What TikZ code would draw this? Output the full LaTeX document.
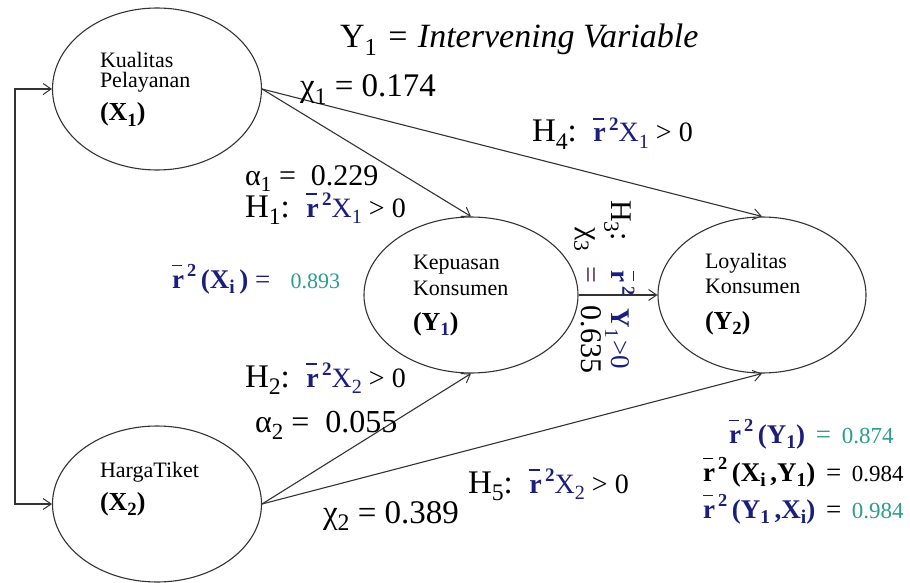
\documentclass[tikz,border=0pt]{standalone}
\usepackage{fontspec}
\setmainfont{Liberation Serif}
\usetikzlibrary{shapes.geometric,arrows.meta}
\definecolor{navy}{HTML}{1B1F7B}
\definecolor{teal2}{HTML}{2E9C8F}
\definecolor{plum}{HTML}{5A2040}
\definecolor{linec}{HTML}{333333}
\newcommand\sbs[1]{\raisebox{-0.22em}{\scalebox{0.72}{#1}}}
\newcommand\sps[1]{\raisebox{0.42em}{\scalebox{0.68}{#1}}}
\newcommand\rsq{\rlap{\raisebox{0.8em}{\rule{0.38em}{0.055em}}}\textbf{r}\kern0.12em\sps{\textbf{2}}}
\newcommand\fs[1]{\fontsize{#1}{#1}\selectfont}
\begin{document}
\begin{tikzpicture}[x=1pt,y=-1pt,
  ell/.style={ellipse,draw=linec,line width=1.1pt,inner sep=0pt},
  lbl/.style={anchor=base west,inner sep=0pt,outer sep=0pt},
  conn/.style={draw=linec,line width=1.1pt,-{Straight Barb[length=8pt,width=11pt,line width=1pt]}},
  conn2/.style={draw=linec,line width=1.1pt,{Straight Barb[length=8pt,width=11pt,line width=1pt]}-{Straight Barb[length=8pt,width=11pt,line width=1pt]}}]
\useasboundingbox (0,0) rectangle (910,583);
\fill[white] (0,0) rectangle (910,583);

% ellipses
\node[ell,minimum width=209pt,minimum height=162pt] (x1) at (157,89) {};
\node[ell,minimum width=209pt,minimum height=156pt] (x2) at (157,504) {};
\node[ell,minimum width=214pt,minimum height=156pt] (y1) at (471,295) {};
\node[ell,minimum width=208pt,minimum height=156pt] (y2) at (762,295) {};

% ellipse texts
\node[lbl] (x1a) at (100,68) {\fs{22}Kualitas};
\node[lbl] (x1b) at (100,88) {\fs{22}Pelayanan};
\node[lbl] (x1c) at (100,121) {\fs{26}\textbf{(X\sbs{1})}};
\node[lbl] (x2a) at (100,477) {\fs{22}HargaTiket};
\node[lbl] (x2b) at (100,510) {\fs{26}\textbf{(X\sbs{2})}};
\node[lbl] (y1a) at (413,269) {\fs{22}Kepuasan};
\node[lbl] (y1b) at (413,295) {\fs{22}Konsumen};
\node[lbl] (y1c) at (413,330) {\fs{26}\textbf{(Y\sbs{\color{navy}1})}};
\node[lbl] (y2a) at (705,268) {\fs{22}Loyalitas};
\node[lbl] (y2b) at (705,293) {\fs{22}Konsumen};
\node[lbl] (y2c) at (705,329) {\fs{26}\textbf{(Y\sbs{2})}};

% connectors
\coordinate (fbt) at (15,89);
\coordinate (fbb) at (15,504);
\draw[conn2] (x1.west) -- (fbt) -- (fbb) -- (x2.west);
\draw[conn] (x1.east) -- (y1.north);
\draw[conn] (x1.east) -- (y2.north);
\draw[conn] (x2.east) -- (y1.south);
\draw[conn] (x2.east) -- (y2.south);
\draw[conn] (y1.east) -- (y2.west);

% labels
\node[lbl] (title) at (340,48) {\fs{34}Y\sbs{1}\hspace{3pt} = \hspace{2pt}\textit{Intervening Variable}};
\node[lbl] (chi1) at (300,97) {\fs{33}χ\sbs{1} = 0.174};
\node[lbl] (h4) at (532,142) {\fs{33}H\sbs{4}:\ \ \fs{28}\color{navy}\rsq X\sbs{1} \color{black}> 0};
\node[lbl] (a1) at (245,185) {\fs{30}α\sbs{1} = \ 0.229};
\node[lbl] (h1) at (245,217) {\fs{33}H\sbs{1}:\ \ \fs{28}\color{navy}\rsq X\sbs{1} \color{black}> 0};
\node[lbl] (rx) at (172,288) {\fs{27}\color{navy}\rsq\,\textbf{(X\sbs{i}\,)} = \ \ \color{teal2}\fs{22}0.893};
\node[lbl] (h2) at (245,387) {\fs{33}H\sbs{2}:\ \ \fs{28}\color{navy}\rsq X\sbs{2} \color{black}> 0};
\node[lbl] (a2) at (255,432) {\fs{32}α\sbs{2} = \ 0.055};
\node[lbl] (chi2) at (323,523) {\fs{33}χ\sbs{2} = 0.389};
\node[lbl] (h5) at (468,493) {\fs{33}H\sbs{5}:\ \ \fs{28}\color{navy}\rsq X\sbs{2} \color{black}> 0};
\node[lbl] (ry) at (729,443) {\fs{27}\color{navy}\rsq\,\textbf{(Y\sbs{1})}\hspace{4pt} \color{teal2}=\hspace{4pt} \fs{23}0.874};
\node[lbl] (rxy) at (703,481) {\fs{27}\rsq\,\textbf{(X\sbs{i}\,,Y\sbs{1})}\hspace{4pt} =\hspace{4pt} \fs{23}0.984};
\node[lbl] (ryx) at (703,518) {\fs{27}\color{navy}\rsq\,\textbf{(Y\sbs{1}\,,X\sbs{i})}\hspace{4pt} \color{black}=\hspace{4pt} \color{teal2}\fs{23}0.984};
\node[lbl,rotate=-90] (h3) at (611,200) {\fs{30}H\sbs{3}:\ \ \ \ \fs{27}\color{navy}\rsq\ \ \textbf{Y}\sbs{1}\kern0.1em>0};
\node[lbl,rotate=-90] (chi3) at (581,227) {\fs{30}χ\sbs{3}\ \ {\color{plum}=}\ \ \ 0.635};
\end{tikzpicture}
\end{document}
